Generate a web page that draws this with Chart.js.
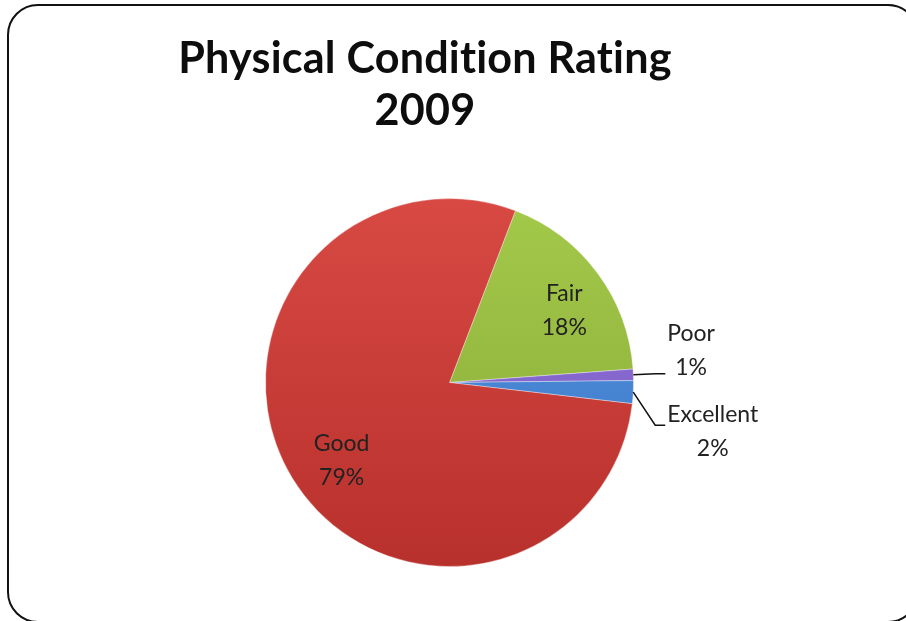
<!DOCTYPE html>
<html>
<head>
<meta charset="utf-8">
<script src="https://cdn.jsdelivr.net/npm/chart.js@4.4.1/dist/chart.umd.min.js"></script>
<style>
  html, body { margin: 0; padding: 0; background: #fff; }
  #wrap { width: 906px; height: 621px; position: relative; }
</style>
</head>
<body>
<div id="wrap"><canvas id="pie"></canvas></div>
<script>
// data
const titleLines = ['Physical Condition Rating', '2009'];
const categories = ['Fair', 'Poor', 'Excellent', 'Good'];
const shares = [18, 1, 2, 79];

// look
const topColors = ['#a3c94a', '#9a7ae0', '#5b9ae6', '#d84943'];
const bottomColors = ['#88a936', '#6f52b8', '#3470c0', '#b8302c'];
const labelNudge = [0, 0, 32, 0];   // push small outside labels apart
const textColor = '#222';
const labelFont = '23px Lato, "Open Sans", sans-serif';

function sliceFill(ctx) {
    const chart = ctx.chart;
    const area = chart.chartArea;
    const i = ctx.dataIndex;
    if (!area) return topColors[i];
    const g = chart.ctx.createLinearGradient(0, area.top, 0, area.bottom);
    g.addColorStop(0, topColors[i]);
    g.addColorStop(1, bottomColors[i]);
    return g;
}

// rounded frame and title
const framePlugin = {
    id: 'frame',
    beforeDraw(chart) {
        const c = chart.ctx;
        c.save();
        c.fillStyle = '#fff';
        c.fillRect(0, 0, chart.width, chart.height);
        c.beginPath();
        c.roundRect(8, 5, 910, 617, 30);
        c.lineWidth = 2;
        c.strokeStyle = '#111';
        c.stroke();

        c.fillStyle = '#0d0d0d';
        c.textAlign = 'center';
        c.textBaseline = 'alphabetic';
        c.letterSpacing = '0.2px';   // also stops Lato's "ti" ligature
        // fit first line to the width it has in the picture
        let size = 40;
        c.font = `bold ${size}px Lato, sans-serif`;
        size = size * 494 / c.measureText(titleLines[0]).width;
        c.font = `bold ${size}px Lato, sans-serif`;
        c.fillText(titleLines[0], 425, 73);
        c.fillText(titleLines[1], 425, 125);
        c.restore();
    }
};

// slice labels: inside for big slices, leader lines for small ones
const labelPlugin = {
    id: 'sliceLabels',
    afterDatasetsDraw(chart) {
        const c = chart.ctx;
        const meta = chart.getDatasetMeta(0);
        c.save();
        c.font = labelFont;
        c.fillStyle = textColor;
        c.textBaseline = 'middle';
        const lineH = 34;
        meta.data.forEach((arc, i) => {
            const p = arc.getProps(['x', 'y', 'startAngle', 'endAngle', 'outerRadius'], true);
            const mid = (p.startAngle + p.endAngle) / 2;
            const cos = Math.cos(mid), sin = Math.sin(mid);
            const l1 = categories[i];
            const l2 = shares[i] + '%';
            if (shares[i] >= 10) {
                const tx = p.x + cos * p.outerRadius * 0.73 + 7;
                const ty = p.y + sin * p.outerRadius * 0.73 + 8;
                c.textAlign = 'center';
                c.fillText(l1, tx, ty - lineH / 2);
                c.fillText(l2, tx, ty + lineH / 2);
                return;
            }
            const sx = p.x + cos * p.outerRadius;
            const sy = p.y + sin * p.outerRadius;
            const ex = p.x + cos * (p.outerRadius + 22);
            const ey = p.y + sin * (p.outerRadius + 22) + labelNudge[i];
            const hx = ex + 10;
            c.beginPath();
            c.moveTo(sx, sy);
            c.lineTo(ex, ey);
            c.lineTo(hx, ey);
            c.lineWidth = 1.5;
            c.strokeStyle = '#111';
            c.stroke();
            const w = Math.max(c.measureText(l1).width, c.measureText(l2).width);
            const cx = hx + 2 + w / 2;
            c.textAlign = 'center';
            // labels above the line when the slice is above the middle
            const cy = labelNudge[i] > 0 ? ey + 6 : ey - 23;
            c.fillText(l1, cx, cy - lineH / 2);
            c.fillText(l2, cx, cy + lineH / 2);
        });
        c.restore();
    }
};

new Chart(document.getElementById('pie'), {
    type: 'pie',
    data: {
        labels: categories,
        datasets: [{
            data: shares,
            backgroundColor: sliceFill,
            borderColor: 'rgba(255,255,255,0.35)',
            borderWidth: 1
        }]
    },
    options: {
        responsive: true,
        maintainAspectRatio: false,
        animation: false,
        rotation: 21,
        layout: { padding: { top: 198, bottom: 54, left: 265, right: 272 } },
        plugins: {
            legend: { display: false },
            tooltip: { enabled: false },
            title: { display: false }
        }
    },
    plugins: [framePlugin, labelPlugin]
});
</script>
</body>
</html>
